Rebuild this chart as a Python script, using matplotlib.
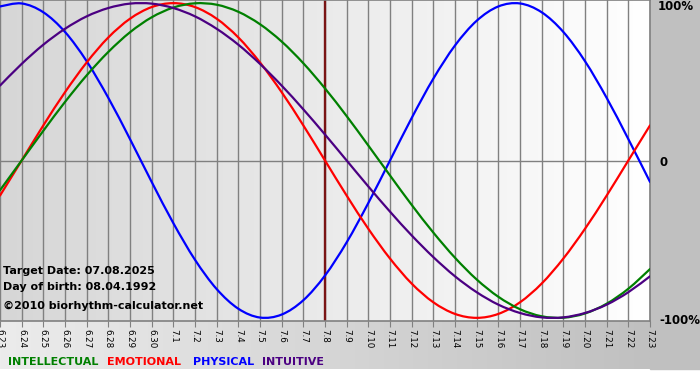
import numpy as np
import matplotlib
matplotlib.use("Agg")
import matplotlib.pyplot as plt
from matplotlib.colors import LinearSegmentedColormap
from matplotlib.path import Path
from matplotlib.patches import PathPatch

# ---- data ----
dates = ["6.23", "6.24", "6.25", "6.26", "6.27", "6.28", "6.29", "6.30",
         "7.1", "7.2", "7.3", "7.4", "7.5", "7.6", "7.7", "7.8", "7.9",
         "7.10", "7.11", "7.12", "7.13", "7.14", "7.15", "7.16", "7.17",
         "7.18", "7.19", "7.20", "7.21", "7.22", "7.23"]
target_label = "7.8"

physical = [0.979, 0.998, 0.942, 0.817, 0.631, 0.398, 0.136, -0.136, -0.398,
            -0.631, -0.817, -0.942, -0.998, -0.979, -0.888, -0.731, -0.520,
            -0.270, 0.000, 0.270, 0.520, 0.731, 0.888, 0.979, 0.998, 0.942,
            0.817, 0.631, 0.398, 0.136, -0.136]
emotional = [-0.223, 0.000, 0.223, 0.434, 0.623, 0.782, 0.901, 0.975, 1.000,
             0.975, 0.901, 0.782, 0.623, 0.434, 0.223, 0.000, -0.223, -0.434,
             -0.623, -0.782, -0.901, -0.975, -1.000, -0.975, -0.901, -0.782,
             -0.623, -0.434, -0.223, 0.000, 0.223]
intellectual = [-0.189, 0.000, 0.189, 0.372, 0.541, 0.690, 0.815, 0.910, 0.972,
                0.999, 0.990, 0.945, 0.866, 0.756, 0.618, 0.458, 0.282, 0.095,
                -0.095, -0.282, -0.458, -0.618, -0.756, -0.866, -0.945, -0.990,
                -0.999, -0.972, -0.910, -0.815, -0.690]
intuitive = [0.476, 0.614, 0.736, 0.837, 0.916, 0.969, 0.997, 0.997, 0.969,
             0.916, 0.837, 0.736, 0.614, 0.476, 0.325, 0.165, 0.000, -0.165,
             -0.325, -0.476, -0.614, -0.736, -0.837, -0.916, -0.969, -0.997,
             -0.997, -0.969, -0.916, -0.837, -0.736]

series_names = ["INTELLECTUAL", "EMOTIONAL", "PHYSICAL", "INTUITIVE"]
series_colors = ["#008000", "#ff0000", "#0000ff", "#4b0082"]
y_labels = ["100%", "0", "-100%"]
info_lines = ["Target Date: 07.08.2025", "Day of birth: 08.04.1992",
              "\u00a92010 biorhythm-calculator.net"]

# ---- figure ----
W, H = 700, 380
fig = plt.figure(figsize=(W / 100, H / 100), dpi=100)
fig.patch.set_facecolor("white")

def px(x, y):
    return x / W, 1 - y / H

# background axes (whole figure)
bg = fig.add_axes([0, 0, 1, 1])
bg.set_xlim(0, W)
bg.set_ylim(H, 0)
bg.axis("off")
bg.add_patch(plt.Rectangle((650, 0), 50, 369, color="#c0c0c0", zorder=0))
grad = np.linspace(0, 1, 256).reshape(1, -1)
cm_bottom = LinearSegmentedColormap.from_list("b", ["#ececec", "#c0c0c0"])
bg.imshow(grad, cmap=cm_bottom, extent=(0, 650, 369, 321), aspect="auto", zorder=0)

# main axes
ax = fig.add_axes([0, 1 - 321 / H, 650 / W, 321 / H])
ax.set_facecolor("none")
x = np.arange(len(dates))
ax.set_xlim(0, len(dates) - 1)
ylim = 1.02
ax.set_ylim(-ylim, ylim)

cm_plot = LinearSegmentedColormap.from_list("p", ["#d6d6d6", "#ffffff"])
ax.imshow(grad, cmap=cm_plot, extent=(0, len(dates) - 1, -ylim, ylim),
          aspect="auto", zorder=0)

for xi in x:
    ax.axvline(xi, color="#808080", lw=1.0, zorder=1)
ax.axhline(0, color="#808080", lw=1.0, zorder=1)
ax.axvline(dates.index(target_label), color="#7a1414", lw=1.7, zorder=2)


def smooth_line(ax, xs, ys, color):
    """Draw a smoothed (Catmull-Rom as cubic Bezier) line through the points."""
    pts = np.column_stack([xs, ys]).astype(float)
    ext = np.vstack([pts[0], pts, pts[-1]])
    verts = [tuple(pts[0])]
    codes = [Path.MOVETO]
    for i in range(len(pts) - 1):
        p0, p1, p2, p3 = ext[i], ext[i + 1], ext[i + 2], ext[i + 3]
        c1 = p1 + (p2 - p0) / 6.0
        c2 = p2 - (p3 - p1) / 6.0
        verts += [tuple(c1), tuple(c2), tuple(p2)]
        codes += [Path.CURVE4] * 3
    patch = PathPatch(Path(verts, codes), fill=False, edgecolor=color,
                      lw=1.6, zorder=3, transform=ax.transData,
                      capstyle="round", joinstyle="round")
    ax.add_patch(patch)


for vals, col in zip([physical, emotional, intellectual, intuitive],
                     [series_colors[2], series_colors[1], series_colors[0], series_colors[3]]):
    smooth_line(ax, x, vals, col)

ax.spines["left"].set_visible(False)
for s in ["top", "right", "bottom"]:
    ax.spines[s].set_color("#808080")
    ax.spines[s].set_linewidth(1.2)
ax.set_yticks([])
ax.set_xticks(x)
ax.set_xticklabels(dates, rotation=-90, fontsize=6.3, family="DejaVu Sans")
ax.tick_params(axis="x", direction="out", length=4, color="#808080", pad=1.5)

# right labels
for lab, yy, xx in zip(y_labels, [7, 162, 321], [658, 659, 659]):
    fig.text(*px(xx, yy), lab, fontsize=8.5, fontweight="bold",
             va="center", ha="left", color="black")

# info text
for lab, yy in zip(info_lines, [271, 287, 306]):
    fig.text(*px(3, yy), lab, fontsize=8, fontweight="bold",
             va="center", ha="left", color="black")

# legend
for lab, col, xx in zip(series_names, series_colors, [8, 107, 193, 262]):
    fig.text(*px(xx, 362), lab, fontsize=8, fontweight="bold",
             va="center", ha="left", color=col)

fig.savefig("out.png", dpi=100)
